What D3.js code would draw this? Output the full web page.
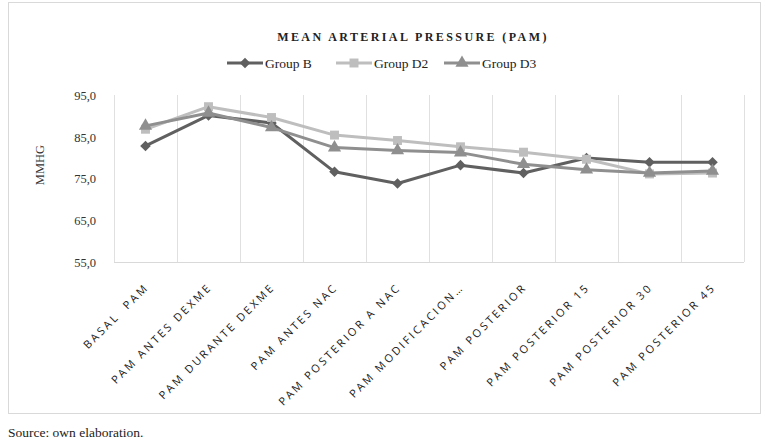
<!DOCTYPE html>
<html>
<head>
<meta charset="utf-8">
<script src="https://cdn.jsdelivr.net/npm/d3@7"></script>
<style>
  body { margin: 0; background: #ffffff; }
  svg { display: block; }
</style>
</head>
<body>
<div id="chart"></div>
<script>
// Data.
const categories = [
  'BASAL  PAM', 'PAM ANTES DEXME', 'PAM DURANTE DEXME', 'PAM ANTES NAC',
  'PAM POSTERIOR A NAC', 'PAM MODIFICACION\u2026', 'PAM POSTERIOR',
  'PAM POSTERIOR 15', 'PAM POSTERIOR 30', 'PAM POSTERIOR 45'
];
const groupB = [82.8, 90.1, 88.3, 76.6, 73.8, 78.2, 76.3, 79.9, 78.9, 78.9];
const groupD2 = [86.8, 92.2, 89.6, 85.4, 84.1, 82.6, 81.3, 79.6, 76.1, 76.3];
const groupD3 = [87.6, 90.7, 87.2, 82.4, 81.7, 81.2, 78.4, 77.1, 76.3, 76.8];
const yTicks = [55, 65, 75, 85, 95];

const series = [
  { name: 'Group B', values: groupB, color: '#606060', symbol: d3.symbolSquare, size: 56, rotate: 45 },
  { name: 'Group D2', values: groupD2, color: '#bebebe', symbol: d3.symbolSquare, size: 80, rotate: 0 },
  { name: 'Group D3', values: groupD3, color: '#8f8f8f', symbol: d3.symbolTriangle, size: 75, rotate: 0 }
];

// Dimensions.
const dimensions = {
  width: 768,
  height: 444,
  plotLeft: 114,
  plotRight: 744,
  plotTop: 95,
  plotBottom: 262
};

const serif = '"Liberation Serif", "DejaVu Serif", serif';

const svg = d3.select('#chart')
  .append('svg')
  .attr('width', dimensions.width)
  .attr('height', dimensions.height);

// Outer frame.
svg.append('rect')
  .attr('x', 8.5)
  .attr('y', 2.5)
  .attr('width', 752)
  .attr('height', 411)
  .attr('fill', 'none')
  .attr('stroke', '#d9d9d9');

const x = d3.scaleBand()
  .domain(categories)
  .range([dimensions.plotLeft, dimensions.plotRight]);

const y = d3.scaleLinear()
  .domain([55, 95])
  .range([dimensions.plotBottom, dimensions.plotTop]);

// Vertical gridlines at category boundaries.
const bounds = categories.map((c) => x(c)).concat([dimensions.plotRight]);
svg.append('g')
  .selectAll('line')
  .data(bounds)
  .join('line')
  .attr('x1', (d) => d + 0.5)
  .attr('x2', (d) => d + 0.5)
  .attr('y1', dimensions.plotTop)
  .attr('y2', dimensions.plotBottom)
  .attr('stroke', '#e0e0e0');

// Bottom axis line.
svg.append('line')
  .attr('x1', dimensions.plotLeft)
  .attr('x2', dimensions.plotRight)
  .attr('y1', dimensions.plotBottom + 0.5)
  .attr('y2', dimensions.plotBottom + 0.5)
  .attr('stroke', '#d9d9d9');

// Y axis.
const yAxis = svg.append('g')
  .attr('transform', `translate(${dimensions.plotLeft - 18},0)`)
  .call(d3.axisLeft(y).tickValues(yTicks).tickSize(0).tickFormat((d) => d3.format('.1f')(d).replace('.', ',')));
yAxis.select('.domain').remove();
yAxis.selectAll('text')
  .attr('x', 0)
  .attr('dy', '0.35em')
  .style('font-family', serif)
  .style('font-size', '12.5px')
  .style('fill', '#333333');

svg.append('text')
  .attr('transform', 'translate(44,165) rotate(-90)')
  .attr('text-anchor', 'middle')
  .style('font-family', serif)
  .style('font-size', '12.5px')
  .style('fill', '#333333')
  .text('MMHG');

// X labels, rotated.
svg.append('g')
  .selectAll('text')
  .data(categories)
  .join('text')
  .attr('transform', (d) => `translate(${x(d) + x.bandwidth() / 2 + 4},${dimensions.plotBottom + 26}) rotate(-45)`)
  .attr('text-anchor', 'end')
  .attr('xml:space', 'preserve')
  .style('white-space', 'pre')
  .style('font-family', '"Open Sans", sans-serif')
  .style('font-size', '11px')
  .style('letter-spacing', '2.5px')
  .style('fill', '#222222')
  .text((d) => d);

// Lines and markers.
const line = d3.line()
  .x((d, i) => x(categories[i]) + x.bandwidth() / 2)
  .y((d) => y(d));

series.forEach((s) => {
  const g = svg.append('g');
  g.append('path')
    .datum(s.values)
    .attr('d', line)
    .attr('fill', 'none')
    .attr('stroke', s.color)
    .attr('stroke-width', 3)
    .attr('stroke-linejoin', 'round');
  g.selectAll('path.marker')
    .data(s.values)
    .join('path')
    .attr('class', 'marker')
    .attr('d', d3.symbol().type(s.symbol).size(s.size))
    .attr('transform', (d, i) => `translate(${x(categories[i]) + x.bandwidth() / 2},${y(d)}) rotate(${s.rotate})`)
    .attr('fill', s.color);
});

// Title.
svg.append('text')
  .attr('x', 413)
  .attr('y', 41)
  .attr('text-anchor', 'middle')
  .style('font-family', serif)
  .style('font-size', '12px')
  .style('font-weight', 'bold')
  .style('letter-spacing', '2.4px')
  .style('fill', '#222222')
  .text('MEAN ARTERIAL PRESSURE (PAM)');

// Legend.
const legendX = [227, 336, 444];
const legend = svg.append('g')
  .selectAll('g')
  .data(series)
  .join('g')
  .attr('transform', (d, i) => `translate(${legendX[i]},63)`);
legend.append('line')
  .attr('x1', 0)
  .attr('x2', 36)
  .attr('stroke', (d) => d.color)
  .attr('stroke-width', 3);
legend.append('path')
  .attr('d', (d) => d3.symbol().type(d.symbol).size(d.size)())
  .attr('transform', (d) => `translate(18,0) rotate(${d.rotate})`)
  .attr('fill', (d) => d.color);
legend.append('text')
  .attr('x', 38)
  .attr('dy', '0.35em')
  .style('font-family', serif)
  .style('font-size', '13.5px')
  .style('fill', '#222222')
  .text((d) => d.name);

// Source note.
svg.append('text')
  .attr('x', 8)
  .attr('y', 437)
  .style('font-family', serif)
  .style('font-size', '13.5px')
  .style('fill', '#222222')
  .text('Source: own elaboration.');
</script>
</body>
</html>
